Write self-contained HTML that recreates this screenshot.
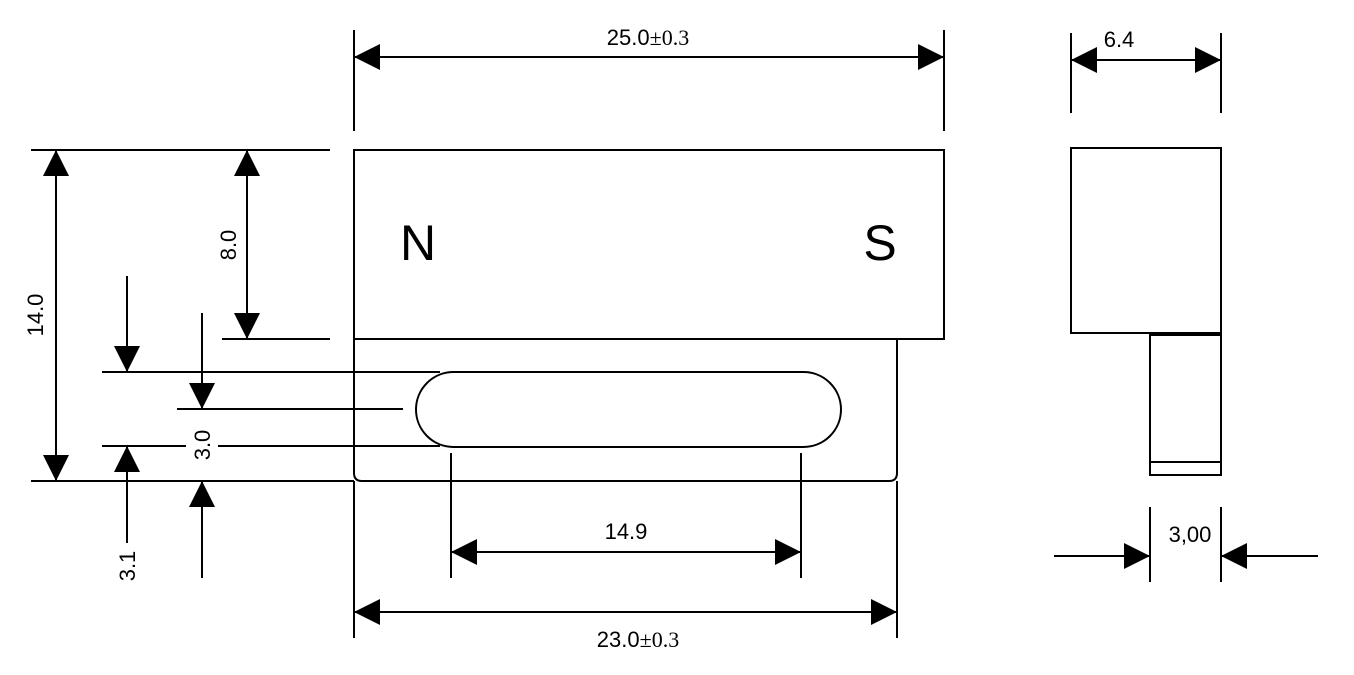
<!DOCTYPE html>
<html><head><meta charset="utf-8"><style>html,body{margin:0;padding:0;background:#fff}svg{display:block}</style></head>
<body>
<svg width="1354" height="675" viewBox="0 0 1354 675" xmlns="http://www.w3.org/2000/svg">
<defs>
<marker id="a" viewBox="0 0 26 26" refX="26" refY="13" markerWidth="26" markerHeight="26" markerUnits="userSpaceOnUse" orient="auto-start-reverse"><path d="M0,0 L26,13 L0,26 Z" fill="#000"/></marker>
</defs>
<g stroke="#000" stroke-width="2" fill="none">
<rect x="354" y="150" width="590" height="189"/>
<path d="M354,339 L354,473 Q354,481 362,481 L889,481 Q897,481 897,473 L897,339"/>
<rect x="416" y="372" width="425" height="75" rx="37.5" ry="37.5"/>
<line x1="354" y1="30" x2="354" y2="131"/>
<line x1="944" y1="30" x2="944" y2="131"/>
<line x1="354" y1="57" x2="944" y2="57" marker-start="url(#a)" marker-end="url(#a)"/>
<line x1="31" y1="150" x2="330" y2="150"/>
<line x1="222" y1="339" x2="330" y2="339"/>
<line x1="102" y1="372" x2="440" y2="372"/>
<line x1="177" y1="409" x2="403" y2="409"/>
<line x1="102" y1="446" x2="186" y2="446"/>
<line x1="218" y1="446" x2="440" y2="446"/>
<line x1="31" y1="481" x2="354" y2="481"/>
<line x1="56" y1="150" x2="56" y2="481" marker-start="url(#a)" marker-end="url(#a)"/>
<line x1="247" y1="150" x2="247" y2="339" marker-start="url(#a)" marker-end="url(#a)"/>
<line x1="127" y1="276" x2="127" y2="372" marker-end="url(#a)"/>
<line x1="202" y1="313" x2="202" y2="409" marker-end="url(#a)"/>
<line x1="127" y1="543" x2="127" y2="446" marker-end="url(#a)"/>
<line x1="202" y1="578" x2="202" y2="481" marker-end="url(#a)"/>
<line x1="451" y1="453" x2="451" y2="578"/>
<line x1="801" y1="453" x2="801" y2="578"/>
<line x1="451" y1="552" x2="801" y2="552" marker-start="url(#a)" marker-end="url(#a)"/>
<line x1="354" y1="481" x2="354" y2="638"/>
<line x1="897" y1="481" x2="897" y2="638"/>
<line x1="354" y1="612" x2="897" y2="612" marker-start="url(#a)" marker-end="url(#a)"/>
<rect x="1071" y="148" width="150" height="185"/>
<rect x="1150" y="335" width="71" height="140"/>
<line x1="1150" y1="462" x2="1221" y2="462"/>
<line x1="1071" y1="33" x2="1071" y2="113"/>
<line x1="1221" y1="33" x2="1221" y2="113"/>
<line x1="1071" y1="60" x2="1221" y2="60" marker-start="url(#a)" marker-end="url(#a)"/>
<line x1="1150" y1="507" x2="1150" y2="582"/>
<line x1="1221" y1="507" x2="1221" y2="582"/>
<line x1="1054" y1="556" x2="1150" y2="556" marker-end="url(#a)"/>
<line x1="1318" y1="556" x2="1221" y2="556" marker-end="url(#a)"/>
</g>
<g font-family="Liberation Sans, sans-serif" fill="#000" font-size="22" text-anchor="middle">
<text x="418" y="260" font-size="50">N</text>
<text x="880" y="260" font-size="50">S</text>
<text x="648" y="45">25.0<tspan font-family="Liberation Serif, serif">±0.3</tspan></text>
<text x="638" y="647">23.0<tspan font-family="Liberation Serif, serif">±0.3</tspan></text>
<text x="626" y="539">14.9</text>
<text x="1119" y="47">6.4</text>
<text x="1190" y="542">3,00</text>
<text transform="translate(43,315) rotate(-90)">14.0</text>
<text transform="translate(236,245) rotate(-90)">8.0</text>
<text transform="translate(210,445) rotate(-90)">3.0</text>
<text transform="translate(135,566) rotate(-90)">3.1</text>
</g>
</svg>
</body></html>
